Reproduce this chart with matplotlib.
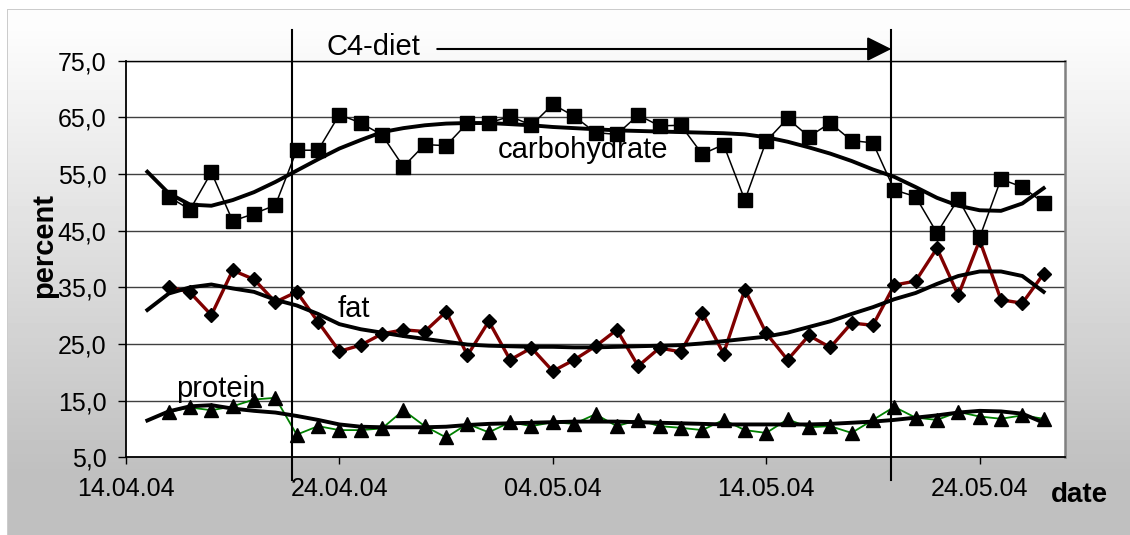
import numpy as np
import matplotlib
matplotlib.use('Agg')
import matplotlib.pyplot as plt
import matplotlib.dates as mdates
import matplotlib.transforms as mtransforms
from matplotlib.ticker import FuncFormatter

plt.rcParams['font.family'] = ['Liberation Sans', 'DejaVu Sans']

# daily intake shares (percent of energy), 16.04.04 - 27.05.04
dates = np.arange(np.datetime64('2004-04-16'), np.datetime64('2004-05-28'))
carbohydrate = [51.0, 48.7, 55.3, 46.7, 48.0, 49.5, 59.2, 59.2, 65.5, 64.0,
                61.9, 56.3, 60.2, 60.0, 64.0, 64.0, 65.2, 63.6, 67.3, 65.2,
                62.3, 62.0, 65.4, 63.5, 63.6, 58.5, 60.2, 50.4, 60.8, 64.8,
                61.6, 64.0, 60.9, 60.5, 52.2, 51.0, 44.6, 50.6, 43.8, 54.1,
                52.7, 49.9]
fat = [35.1, 34.1, 30.1, 38.0, 36.4, 32.4, 34.2, 28.9, 23.7, 24.8,
       26.8, 27.5, 27.2, 30.7, 23.0, 29.0, 22.2, 24.3, 20.2, 22.2,
       24.6, 27.5, 21.1, 24.3, 23.6, 30.5, 23.3, 34.6, 26.9, 22.2,
       26.5, 24.4, 28.7, 28.3, 35.4, 36.1, 41.9, 33.6, 43.3, 32.8,
       32.2, 37.4]
protein = [13.0, 13.8, 13.3, 14.0, 15.2, 15.5, 9.0, 10.5, 9.8, 9.8,
           10.1, 13.3, 10.5, 8.5, 10.9, 9.4, 11.2, 10.5, 11.2, 10.9,
           12.6, 10.5, 11.6, 10.5, 10.2, 9.8, 11.6, 9.8, 9.3, 11.7,
           10.3, 10.5, 9.3, 11.6, 13.9, 12.0, 11.6, 13.0, 12.2, 11.8,
           12.4, 11.8]

# smoothed trend curves, 15.04.04 - 27.05.04
trend_dates = np.arange(np.datetime64('2004-04-15'), np.datetime64('2004-05-28'))
carb_trend = [55.4, 51.6, 49.6, 49.4, 50.4, 51.8, 53.6, 55.6, 57.6, 59.5,
              61.0, 62.4, 63.1, 63.6, 63.9, 64.0, 64.0, 63.8, 63.6, 63.3,
              63.1, 62.9, 62.7, 62.6, 62.5, 62.4, 62.3, 62.2, 62.0, 61.5,
              60.7, 59.7, 58.6, 57.3, 55.8, 54.5, 52.7, 50.8, 49.4, 48.6,
              48.5, 49.8, 52.5]
fat_trend = [31.0, 33.9, 35.0, 35.5, 34.8, 34.2, 32.8, 31.8, 30.3, 28.5,
             27.6, 27.0, 26.4, 25.9, 25.4, 24.9, 24.7, 24.6, 24.5, 24.5,
             24.4, 24.4, 24.5, 24.6, 24.7, 24.8, 25.1, 25.5, 25.9, 26.3,
             27.0, 28.0, 29.0, 30.3, 31.5, 32.9, 34.0, 35.6, 37.0, 37.8,
             37.8, 37.0, 34.2]
protein_trend = [11.5, 13.1, 14.0, 14.2, 13.6, 13.2, 12.9, 12.3, 11.6, 10.8,
                 10.4, 10.3, 10.3, 10.3, 10.4, 10.7, 10.9, 11.0, 11.1, 11.2,
                 11.3, 11.3, 11.3, 11.2, 11.1, 11.0, 10.9, 10.8, 10.8, 10.8,
                 10.8, 10.8, 10.9, 11.1, 11.3, 11.6, 12.0, 12.4, 12.9, 13.2,
                 13.1, 12.7, 11.1]

diet_start = mdates.date2num(np.datetime64('2004-04-21T18:40'))
diet_end = mdates.date2num(np.datetime64('2004-05-19T20:40'))
arrow_start = mdates.date2num(np.datetime64('2004-04-28T14:00'))

tick_dates = np.array(['2004-04-14', '2004-04-24', '2004-05-04', '2004-05-14', '2004-05-24'],
                      dtype='datetime64[D]')

W, H = 1130, 535
fig = plt.figure(figsize=(W / 100, H / 100), dpi=100)

# grey gradient background with thin frame
yy = np.arange(H)
shade = np.clip(1 - (yy - 9) / (470 - 9) * (1 - 0.753), 0.753, 0.99)
img = np.repeat(shade[:, None], W, axis=1)
img[:9, :] = 1
img[:, :7] = 1
img[9, 7:] = 0.8
img[9:, 7] = 0.8
bg = fig.add_axes([0, 0, 1, 1], zorder=-10)
bg.imshow(img, cmap='gray', vmin=0, vmax=1, aspect='auto', interpolation='nearest')
bg.axis('off')

ax = fig.add_axes([126 / W, 1 - 457.3 / H, (1065 - 126) / W, (457.3 - 60.7) / H])
ax.set_facecolor('white')

ax.plot(dates, carbohydrate, color='black', lw=1.1, marker='s', ms=9.5,
        mfc='black', mec='black', zorder=3)
ax.plot(dates, fat, color='#800000', lw=2.4, marker='D', ms=6.8,
        mfc='black', mec='black', zorder=3)
ax.plot(dates, protein, color='#008000', lw=1.3, marker='^', ms=9.5,
        mfc='black', mec='black', zorder=3)

for trend in [carb_trend, fat_trend, protein_trend]:
    ax.plot(trend_dates, trend, color='black', lw=2.8, zorder=4)

ax.set_xlim(np.datetime64('2004-04-14'), np.datetime64('2004-05-28'))
ax.set_ylim(5, 75)
ax.set_yticks(np.arange(5, 76, 10))
ax.yaxis.set_major_formatter(FuncFormatter(lambda v, p: f'{v:.1f}'.replace('.', ',')))
ax.set_xticks(tick_dates)
ax.xaxis.set_major_formatter(mdates.DateFormatter('%d.%m.%y'))
ax.yaxis.grid(True, color='#404040', lw=1)
ax.set_axisbelow(True)

ax.tick_params(axis='y', direction='out', length=6, width=1, pad=8, labelsize=18)
ax.tick_params(axis='x', direction='out', length=5, width=1, pad=9, labelsize=18)

ax.spines['top'].set_linewidth(1)
ax.spines['left'].set_linewidth(1.3)
ax.spines['bottom'].set_linewidth(1.3)
ax.spines['right'].set_color('#808080')
ax.spines['right'].set_linewidth(1.8)

# diet period markers
trans = mtransforms.blended_transform_factory(ax.transData, ax.transAxes)
for d in [diet_start, diet_end]:
    ax.plot([d, d], [-0.057, 1.077], color='black', lw=1.5, transform=trans,
            clip_on=False, zorder=5)
ax.annotate('', xy=(diet_end, 1.0295), xytext=(arrow_start, 1.0295),
            xycoords=trans, textcoords=trans,
            arrowprops=dict(arrowstyle='-|>,head_length=15,head_width=7.5',
                            mutation_scale=1, color='black', lw=1.5,
                            shrinkA=0, shrinkB=0))
fig.text(373 / W, 1 - 55 / H, 'C4-diet', fontsize=21, ha='center', va='baseline')

# series labels
ax.text(np.datetime64('2004-05-05T10:00'), 57.75, 'carbohydrate', fontsize=21,
        ha='center', va='baseline', zorder=6)
ax.text(np.datetime64('2004-04-24T16:00'), 29.7, 'fat', fontsize=21,
        ha='center', va='baseline', zorder=6)
ax.text(np.datetime64('2004-04-18T10:00'), 15.6, 'protein', fontsize=21,
        ha='center', va='baseline', zorder=6)

fig.text(44 / W, 1 - 246 / H, 'percent', fontsize=21, fontweight='bold',
         rotation=90, ha='center', va='center')
fig.text(1079 / W, 1 - 495 / H, 'date', fontsize=20, fontweight='bold',
         ha='center', va='center')

fig.savefig('out.png', dpi=100)
